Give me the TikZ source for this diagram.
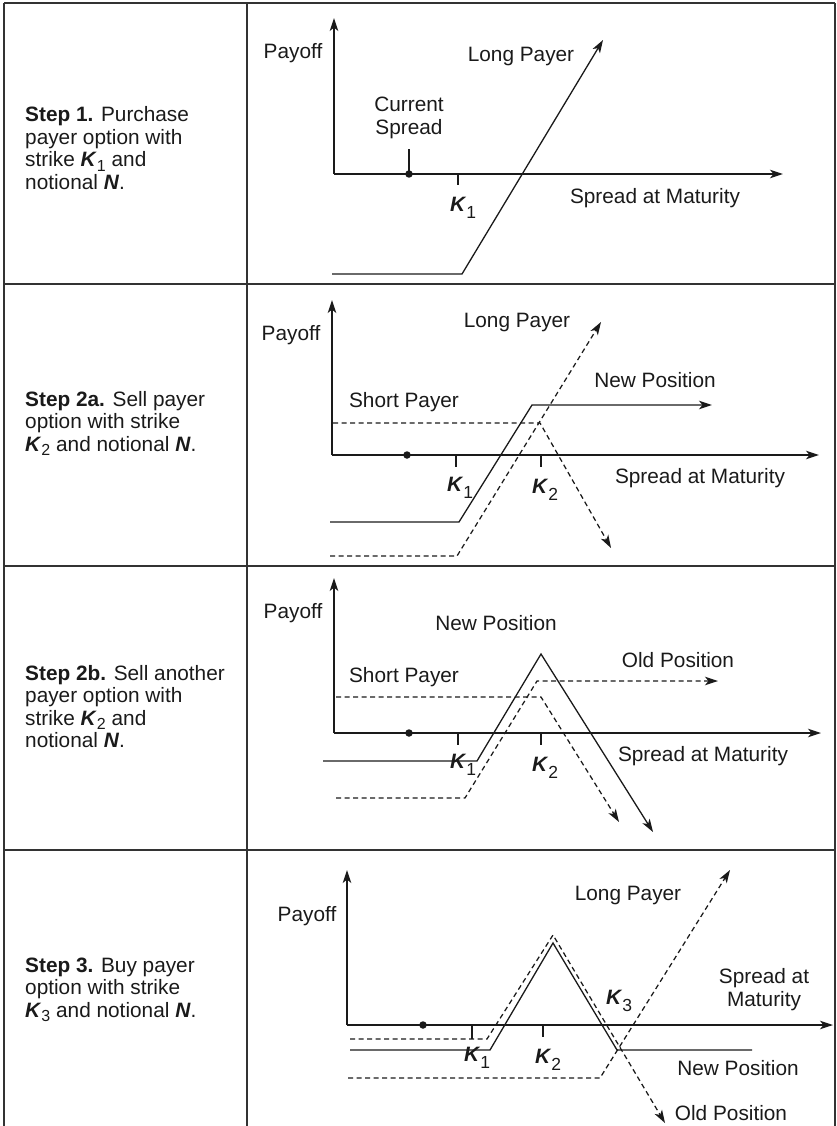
\documentclass[tikz,border=0pt]{standalone}
\usepackage{fontspec}
\setmainfont{Liberation Sans}
\usetikzlibrary{arrows.meta}
\definecolor{ink}{HTML}{1A1A1A}
\definecolor{rulecol}{HTML}{333333}
\newcommand\Kb[1]{\textbf{\textit{K}}\raisebox{-0.32em}{\fontsize{17.5}{17.5}\selectfont #1}}
\newcommand\Ks[1]{\textbf{\textit{K}}\raisebox{-0.22em}{\fontsize{16}{16}\selectfont #1}}
\newcommand\Nb{\textbf{\textit{N}}}
\begin{document}
\begin{tikzpicture}[x=1pt,y=-1pt,line join=miter,
  txt/.style={font=\fontsize{20.8}{23}\selectfont, text=ink, inner sep=0pt},
  steptxt/.style={txt, anchor=base west},
  arrowtip/.style={-{Stealth[length=13pt,width=8.5pt,inset=3.5pt]}},
  axis/.style={draw=ink, line width=1.35pt, arrowtip},
  solidcurve/.style={draw=ink, line width=1.3pt},
  dashcurve/.style={draw=ink, line width=1.25pt, dash pattern=on 5pt off 3.5pt},
  gridline/.style={draw=rulecol, line width=1.6pt},
  tickmark/.style={draw=ink, line width=1.2pt},
  dotmark/.style={circle, fill=ink, inner sep=0pt, minimum size=7.5pt},
]
\useasboundingbox (0,0) rectangle (837,1126);

% ---------- table ----------
\draw[gridline] (4,3) -- (835,3);
\draw[gridline] (4,284) -- (835,284);
\draw[gridline] (4,566) -- (835,566);
\draw[gridline] (4,850) -- (835,850);
\draw[gridline] (4,3) -- (4,1126);
\draw[gridline] (247,3) -- (247,1126);
\draw[gridline] (835,3) -- (835,1126);

% ---------- step texts ----------
\node[steptxt] (s1a) at (25,122) {\textbf{Step 1.} Purchase};
\node[steptxt] (s1b) at (25,144.5) {payer option with};
\node[steptxt] (s1c) at (25,167) {strike \Ks{1} and};
\node[steptxt] (s1d) at (25,189.5) {notional \Nb.};

\node[steptxt] (s2a) at (25,406) {\textbf{Step 2a.} Sell payer};
\node[steptxt] (s2b) at (25,428.5) {option with strike};
\node[steptxt] (s2c) at (25,451) {\Ks{2} and notional \Nb.};

\node[steptxt] (s3a) at (25,680) {\textbf{Step 2b.} Sell another};
\node[steptxt] (s3b) at (25,702.5) {payer option with};
\node[steptxt] (s3c) at (25,725) {strike \Ks{2} and};
\node[steptxt] (s3d) at (25,747.5) {notional \Nb.};

\node[steptxt] (s4a) at (25,972) {\textbf{Step 3.} Buy payer};
\node[steptxt] (s4b) at (25,994.5) {option with strike};
\node[steptxt] (s4c) at (25,1017) {\Ks{3} and notional \Nb.};

% ---------- panel 1 ----------
\coordinate (p1o) at (334,174);
\coordinate (p1y) at (334,18);
\coordinate (p1x) at (783,174);
\draw[axis] (p1o) -- (p1y);
\draw[axis] (p1o) -- (p1x);
\node[dotmark] (p1dot) at (409,174) {};
\coordinate (p1cs) at (409,149);
\draw[tickmark] (p1dot.center) -- (p1cs);
\coordinate (p1k1) at (458,174);
\coordinate (p1k1b) at (458,185);
\draw[tickmark] (p1k1) -- (p1k1b);
\coordinate (p1a) at (332,274);
\coordinate (p1b) at (462,274);
\coordinate (p1c) at (603,40);
\draw[solidcurve, arrowtip] (p1a) -- (p1b) -- (p1c);
\node[txt] (p1pay) at (293,53) {Payoff};
\node[txt] (p1lp) at (521,57) {Long Payer};
\node[txt, align=center] (p1cur) at (409,118) {Current\\Spread};
\node[txt] (p1K1) at (463,208) {\Kb{1}};
\node[txt] (p1sm) at (655,198) {Spread at Maturity};

% ---------- panel 2 ----------
\coordinate (p2o) at (332,455);
\draw[axis] (p2o) -- (332,300);
\draw[axis] (p2o) -- (819,455);
\node[dotmark] (p2dot) at (407,455) {};
\draw[tickmark] (456,455) -- (456,467);
\draw[tickmark] (541,455) -- (541,467);
\coordinate (p2n1) at (330,522);
\coordinate (p2n2) at (459,522);
\coordinate (p2n3) at (532,405);
\coordinate (p2n4) at (712,405);
\draw[solidcurve, arrowtip] (p2n1) -- (p2n2) -- (p2n3) -- (p2n4);
\coordinate (p2s1) at (333,423);
\coordinate (p2s2) at (540,423);
\coordinate (p2s3) at (611,548);
\draw[dashcurve, arrowtip] (p2s1) -- (p2s2) -- (p2s3);
\coordinate (p2l1) at (330,556);
\coordinate (p2l2) at (457,556);
\coordinate (p2l3) at (601,322);
\draw[dashcurve, arrowtip] (p2l1) -- (p2l2) -- (p2l3);
\node[txt] (p2pay) at (291,335) {Payoff};
\node[txt] (p2lp) at (517,323) {Long Payer};
\node[txt] (p2sp) at (404,402) {Short Payer};
\node[txt] (p2np) at (655,380) {New Position};
\node[txt] (p2K1) at (460,488) {\Kb{1}};
\node[txt] (p2K2) at (545,490) {\Kb{2}};
\node[txt] (p2sm) at (700,478) {Spread at Maturity};

% ---------- panel 3 ----------
\coordinate (p3o) at (334,733);
\draw[axis] (p3o) -- (334,578);
\draw[axis] (p3o) -- (821,733);
\node[dotmark] (p3dot) at (409,733) {};
\draw[tickmark] (458,733) -- (458,745);
\draw[tickmark] (541,733) -- (541,745);
\coordinate (p3n1) at (323,761);
\coordinate (p3n2) at (477,761);
\coordinate (p3n3) at (541,654);
\coordinate (p3n4) at (653,832);
\draw[solidcurve, arrowtip] (p3n1) -- (p3n2) -- (p3n3) -- (p3n4);
\coordinate (p3o1) at (336,798);
\coordinate (p3o2) at (465,798);
\coordinate (p3o3) at (537,681);
\coordinate (p3o4) at (718,681);
\draw[dashcurve, arrowtip] (p3o1) -- (p3o2) -- (p3o3) -- (p3o4);
\coordinate (p3s1) at (336,697);
\coordinate (p3s2) at (541,697);
\coordinate (p3s3) at (619,822);
\draw[dashcurve, arrowtip] (p3s1) -- (p3s2) -- (p3s3);
\node[txt] (p3pay) at (293,613) {Payoff};
\node[txt] (p3np) at (496,623) {New Position};
\node[txt] (p3op) at (678,660) {Old Position};
\node[txt] (p3sp) at (404,677) {Short Payer};
\node[txt] (p3K1) at (463,765) {\Kb{1}};
\node[txt] (p3K2) at (545,768) {\Kb{2}};
\node[txt] (p3sm) at (703,756) {Spread at Maturity};

% ---------- panel 4 ----------
\coordinate (p4o) at (347,1025);
\draw[axis] (p4o) -- (347,870);
\draw[axis] (p4o) -- (833,1025);
\node[dotmark] (p4dot) at (423,1025) {};
\draw[tickmark] (472,1025) -- (472,1039);
\draw[tickmark] (543,1025) -- (543,1037);
\coordinate (p4n1) at (350,1050);
\coordinate (p4n2) at (490,1050);
\coordinate (p4n3) at (553,943);
\coordinate (p4n4) at (617,1050);
\coordinate (p4n5) at (752,1050);
\draw[solidcurve] (p4n1) -- (p4n2) -- (p4n3) -- (p4n4) -- (p4n5);
\coordinate (p4o1) at (350,1039);
\coordinate (p4o2) at (487,1039);
\coordinate (p4o3) at (553,935);
\coordinate (p4o4) at (665,1123);
\draw[dashcurve, arrowtip] (p4o1) -- (p4o2) -- (p4o3) -- (p4o4);
\coordinate (p4l1) at (348,1078);
\coordinate (p4l2) at (600,1078);
\coordinate (p4l3) at (730,870);
\draw[dashcurve, arrowtip] (p4l1) -- (p4l2) -- (p4l3);
\node[txt] (p4pay) at (307,916) {Payoff};
\node[txt] (p4lp) at (628,895) {Long Payer};
\node[txt, align=center] (p4sm) at (764,990) {Spread at\\Maturity};
\node[txt] (p4K3) at (619,1001) {\Kb{3}};
\node[txt] (p4K1) at (477,1058) {\Kb{1}};
\node[txt] (p4K2) at (548,1060) {\Kb{2}};
\node[txt] (p4np) at (738,1068) {New Position};
\node[txt] (p4op) at (731,1113) {Old Position};
\end{tikzpicture}
\end{document}
